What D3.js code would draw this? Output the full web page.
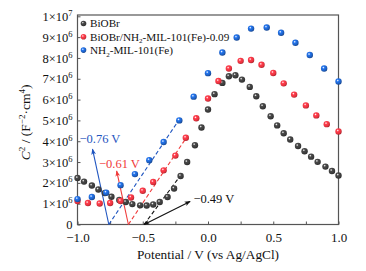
<!DOCTYPE html>
<html>
<head>
<meta charset="utf-8">
<script src="https://cdn.jsdelivr.net/npm/d3@7"></script>
<style>
  body { margin: 0; background: #fff; }
  svg { display: block; font-family: "Liberation Serif", "Times New Roman", serif; }
</style>
</head>
<body>
<div id="chart"></div>
<script>
// data (potential in V, C^-2 in units of 1e6)
const bioBrV = [-1.00, -0.95, -0.89, -0.84, -0.79, -0.74, -0.68, -0.63, -0.58, -0.52, -0.47, -0.42, -0.37, -0.31, -0.26, -0.21, -0.16, -0.10, -0.05, 0.00, 0.05, 0.11, 0.16, 0.21, 0.26, 0.32, 0.37, 0.42, 0.48, 0.53, 0.58, 0.63, 0.69, 0.74, 0.79, 0.84, 0.90, 0.95, 1.00];
const bioBrC = [2.23, 2.06, 1.87, 1.68, 1.51, 1.33, 1.18, 1.08, 0.98, 0.92, 0.91, 0.96, 1.08, 1.32, 1.73, 2.33, 3.00, 3.81, 4.66, 5.52, 6.26, 6.80, 7.12, 7.17, 6.96, 6.61, 6.16, 5.68, 5.20, 4.76, 4.38, 4.08, 3.77, 3.52, 3.26, 3.01, 2.78, 2.57, 2.35];

const compV = [-1.00, -0.92, -0.83, -0.75, -0.67, -0.59, -0.50, -0.42, -0.34, -0.25, -0.17, -0.09, 0.00, 0.08, 0.16, 0.25, 0.33, 0.41, 0.50, 0.58, 0.66, 0.75, 0.83, 0.91, 1.00];
const compC = [1.13, 1.03, 1.01, 1.03, 1.13, 1.30, 1.62, 2.04, 2.60, 3.31, 4.17, 5.10, 6.05, 6.89, 7.49, 7.86, 7.90, 7.67, 7.28, 6.78, 6.24, 5.72, 5.24, 4.82, 4.47];

const mofV = [-1.00, -0.89, -0.78, -0.67, -0.56, -0.45, -0.34, -0.22, -0.11, 0.00, 0.11, 0.22, 0.33, 0.45, 0.56, 0.67, 0.78, 0.89, 1.00];
const mofC = [1.22, 1.32, 1.53, 1.89, 2.42, 3.09, 3.96, 5.00, 6.14, 7.27, 8.26, 8.98, 9.41, 9.46, 9.21, 8.73, 8.14, 7.49, 6.87];

// Mott-Schottky tangent lines: [start V, start C], [end V, end C]
const fitLines = [
  { key: "mof",  from: [-0.76, 0], to: [-0.225, 5.0] },
  { key: "comp", from: [-0.61, 0], to: [-0.165, 4.18] },
  { key: "bio",  from: [-0.49, 0], to: [-0.21, 2.36] }
];

// flat-band arrows and labels
const annotations = [
  { key: "mof",  from: [-0.76, 0], to: [-0.885, 3.62], text: "\u22120.76 V", at: [-0.985, 3.93], both: false },
  { key: "comp", from: [-0.61, 0], to: [-0.700, 2.57], text: "\u22120.61 V", at: [-0.835, 2.73], both: false },
  { key: "bio",  from: [-0.49, 0], to: [-0.137, 1.11], text: "\u22120.49 V", at: [-0.112, 1.03], both: true }
];

const xTicks = [-1.0, -0.75, -0.5, -0.25, 0, 0.25, 0.5, 0.75, 1.0];
const xLabelTicks = [-1.0, -0.5, 0, 0.5, 1.0];
const yTicks = [0, 1, 2, 3, 4, 5, 6, 7, 8, 9, 10];

const series = [
  { key: "bio",  name: ["BiOBr"], v: bioBrV, c: bioBrC },
  { key: "comp", name: ["BiOBr/NH", "2", "-MIL-101(Fe)-0.09"], v: compV, c: compC },
  { key: "mof",  name: ["NH", "2", "-MIL-101(Fe)"], v: mofV, c: mofC }
];

const colors = { bio: "#3c3c3c", comp: "#e8323e", mof: "#1d5fc2" };
const lineColors = { bio: "#111111", comp: "#f03a3a", mof: "#1f55c0" };

const width = 366, height = 271;
const margin = { top: 15, right: 27.5, bottom: 46.5, left: 77.5 };

const svg = d3.select("#chart").append("svg")
  .attr("width", width)
  .attr("height", height);

const x = d3.scaleLinear().domain([-1, 1]).range([margin.left, width - margin.right]);
const y = d3.scaleLinear().domain([0, 10]).range([height - margin.bottom, 16.3]);

const defs = svg.append("defs");

// shaded balls like the original markers
Object.keys(colors).forEach(k => {
  const g = defs.append("radialGradient")
    .attr("id", "ball-" + k)
    .attr("cx", "38%").attr("cy", "35%").attr("r", "65%");
  g.append("stop").attr("offset", "0%").attr("stop-color", "#ffffff");
  g.append("stop").attr("offset", "30%").attr("stop-color", d3.color(colors[k]).brighter(0.6));
  g.append("stop").attr("offset", "75%").attr("stop-color", colors[k]);
  g.append("stop").attr("offset", "100%").attr("stop-color", d3.color(colors[k]).darker(0.8));

  ["end", "start"].forEach(side => {
    defs.append("marker")
      .attr("id", `arrow-${side}-${k}`)
      .attr("viewBox", "0 -5 10 10")
      .attr("refX", 9)
      .attr("refY", 0)
      .attr("markerWidth", 7)
      .attr("markerHeight", 6)
      .attr("markerUnits", "userSpaceOnUse")
      .attr("orient", side === "end" ? "auto" : "auto-start-reverse")
      .append("path")
      .attr("d", "M0,-4L10,0L0,4L2.5,0Z")
      .attr("fill", lineColors[k]);
  });
});

// axes
const xAxis = d3.axisBottom(x)
  .tickValues(xTicks)
  .tickSize(-3)
  .tickPadding(8.5)
  .tickFormat(d => xLabelTicks.includes(d) ? d3.format(".1f")(d).replace("-", "\u2212") : "");

svg.append("g")
  .attr("class", "x-axis")
  .attr("transform", `translate(0,${y(0)})`)
  .call(xAxis)
  .call(g => g.select(".domain").remove())
  .call(g => g.selectAll("line").attr("stroke", "#555"))
  .call(g => g.selectAll("text").attr("font-size", 13).attr("font-family", "Liberation Serif").attr("fill", "#111"));

const yAxis = d3.axisLeft(y)
  .tickValues(yTicks)
  .tickSize(-3)
  .tickPadding(5)
  .tickFormat("");

svg.append("g")
  .attr("class", "y-axis")
  .attr("transform", `translate(${margin.left},0)`)
  .call(yAxis)
  .call(g => g.select(".domain").remove())
  .call(g => g.selectAll("line").attr("stroke", "#555"))
  .call(g => g.selectAll("text").each(function(d) {
    const t = d3.select(this)
      .attr("font-size", 12.5)
      .attr("font-family", "Liberation Serif")
      .attr("fill", "#111")
      .attr("dy", "0.33em");
    if (d === 0) { t.attr("dy", "0.28em").text("0"); return; }
    const mant = d === 10 ? 1 : d;
    const exp = d === 10 ? "7" : "6";
    t.append("tspan").text(`${mant}\u00d710`);
    t.append("tspan").attr("font-size", 8.5).attr("dy", -5).text(exp);
  }));

// frame
svg.append("rect")
  .attr("x", x(-1))
  .attr("y", margin.top)
  .attr("width", x(1) - x(-1))
  .attr("height", y(0) - margin.top)
  .attr("fill", "none")
  .attr("stroke", "#555")
  .attr("stroke-width", 1.2);

// axis titles
svg.append("text")
  .attr("x", (x(-1) + x(1)) / 2)
  .attr("y", 259)
  .attr("text-anchor", "middle")
  .attr("font-size", 13.3)
  .attr("fill", "#111")
  .text("Potential / V (vs Ag/AgCl)");

const yTitle = svg.append("text")
  .attr("transform", `translate(30,${(y(0) + y(10)) / 2 + 2}) rotate(-90)`)
  .attr("text-anchor", "middle")
  .attr("font-size", 13.5)
  .attr("fill", "#111");
yTitle.append("tspan").attr("font-style", "italic").text("C");
yTitle.append("tspan").attr("font-size", 9).attr("dy", -5.5).text("2");
yTitle.append("tspan").attr("dy", 5.5).text(" / (F");
yTitle.append("tspan").attr("font-size", 9).attr("dy", -5.5).text("\u22122");
yTitle.append("tspan").attr("dy", 5.5).text("\u00b7cm");
yTitle.append("tspan").attr("font-size", 9).attr("dy", -5.5).text("4");
yTitle.append("tspan").attr("dy", 5.5).text(")");

// dashed tangent lines
svg.selectAll(".fit-line")
  .data(fitLines)
  .enter().append("line")
  .attr("class", "fit-line")
  .attr("x1", d => x(d.from[0]))
  .attr("y1", d => y(d.from[1]))
  .attr("x2", d => x(d.to[0]))
  .attr("y2", d => y(d.to[1]))
  .attr("stroke", d => lineColors[d.key])
  .attr("stroke-width", 1.1)
  .attr("stroke-dasharray", "4,2.5");

// arrows
svg.selectAll(".arrow")
  .data(annotations)
  .enter().append("line")
  .attr("class", "arrow")
  .attr("x1", d => x(d.from[0]))
  .attr("y1", d => y(d.from[1]))
  .attr("x2", d => x(d.to[0]))
  .attr("y2", d => y(d.to[1]))
  .attr("stroke", d => lineColors[d.key])
  .attr("stroke-width", 1.1)
  .attr("marker-end", d => `url(#arrow-end-${d.key})`)
  .attr("marker-start", d => d.both ? `url(#arrow-start-${d.key})` : null);

svg.selectAll(".arrow-label")
  .data(annotations)
  .enter().append("text")
  .attr("class", "arrow-label")
  .attr("x", d => x(d.at[0]))
  .attr("y", d => y(d.at[1]))
  .attr("font-size", 12.5)
  .attr("fill", d => d.key === "bio" ? "#111" : lineColors[d.key])
  .text(d => d.text);

// points
series.forEach(s => {
  const pts = s.v.map((v, i) => ({ v, c: s.c[i] }));
  svg.selectAll(".pt-" + s.key)
    .data(pts)
    .enter().append("circle")
    .attr("class", "pt-" + s.key)
    .attr("cx", d => x(d.v))
    .attr("cy", d => y(d.c))
    .attr("r", 3.2)
    .attr("fill", `url(#ball-${s.key})`);
});

// legend
const legend = svg.append("g").attr("class", "legend");
series.forEach((s, i) => {
  const ly = 23.5 + i * 13.3;
  legend.append("circle")
    .attr("cx", 83.5)
    .attr("cy", ly)
    .attr("r", 2.8)
    .attr("fill", `url(#ball-${s.key})`);
  const t = legend.append("text")
    .attr("x", 90)
    .attr("y", ly)
    .attr("dy", "0.35em")
    .attr("font-size", 11.2)
    .attr("fill", "#111");
  t.append("tspan").text(s.name[0]);
  if (s.name.length > 1) {
    t.append("tspan").attr("font-size", 7).attr("dy", 2.5).text(s.name[1]);
    t.append("tspan").attr("dy", -2.5).text(s.name[2]);
  }
});
</script>
</body>
</html>
